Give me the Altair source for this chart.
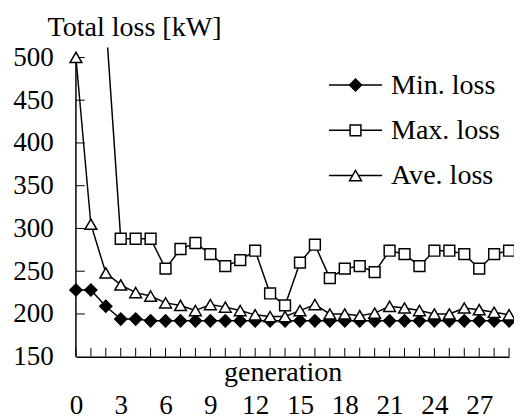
import altair as alt
import pandas as pd

generations = list(range(30))
min_loss = [228, 228, 209, 194, 194, 192, 192, 192, 192, 192, 192, 192, 192, 192, 192,
            192, 192, 192, 192, 192, 192, 192, 192, 192, 192, 192, 192, 192, 192, 192]
max_loss = [1000, 800, 543, 288, 288, 288, 253, 276, 283, 270, 256, 263, 274, 224, 210,
            260, 281, 242, 253, 256, 249, 274, 270, 256, 274, 274, 270, 253, 270, 274]
ave_loss = [500, 305, 248, 234, 225, 221, 213, 210, 204, 211, 208, 204, 199, 197, 197,
            204, 211, 200, 200, 198, 201, 209, 207, 204, 200, 200, 207, 205, 202, 199]
series_names = ["Min. loss", "Max. loss", "Ave. loss"]
x_label_values = [0, 3, 6, 9, 12, 15, 18, 21, 24, 27]
y_tick_values = [150, 200, 250, 300, 350, 400, 450, 500]

rows = []
for name, vals in zip(series_names, [min_loss, max_loss, ave_loss]):
    for g, v in zip(generations, vals):
        rows.append({"gen": g, "loss": v, "series": name})
df = pd.DataFrame(rows)

W, H = 440, 314
FONT = "Times New Roman, Liberation Serif, DejaVu Serif, serif"
FS_NUM = 27.5
FS_TXT = 28.5

xs = alt.Scale(domain=[0, 29], nice=False, zero=False)
ys = alt.Scale(domain=[150, 511.5], nice=False, zero=False)

x_axis = alt.Axis(values=x_label_values, ticks=False, grid=False, domainColor="black",
                  domainWidth=1.5, labelFont=FONT, labelFontSize=FS_NUM, labelColor="black",
                  labelFlush=False, labelOverlap=False, labelBaseline="alphabetic",
                  labelPadding=58, title="generation", titleFont=FONT, titleFontSize=FS_TXT,
                  titleFontWeight="normal", titleColor="black", titleX=210, titleY=24,
                  titleAlign="center", titleBaseline="alphabetic")
y_axis = alt.Axis(values=y_tick_values, ticks=False, grid=False, domain=False,
                  labelFont=FONT, labelFontSize=FS_NUM, labelColor="black",
                  labelFlush=False, labelOverlap=False, labelPadding=23,
                  title="Total loss [kW]", titleFont=FONT, titleFontSize=FS_TXT,
                  titleFontWeight="normal", titleColor="black", titleAngle=0, titleX=59,
                  titleY=-12, titleAlign="center", titleBaseline="alphabetic")

X = alt.X("gen:Q", scale=xs, axis=x_axis)
Y = alt.Y("loss:Q", scale=ys, axis=y_axis)

# y axis line from 150 to 500
y_line = alt.Chart(pd.DataFrame({"loss": [y_tick_values[0]], "loss2": [y_tick_values[-1]]})).mark_rule(
    color="black", strokeWidth=1.5).encode(x=alt.value(0), y=Y, y2="loss2:Q")

lines = alt.Chart(df).mark_line(color="black", strokeWidth=1.5, clip=True).encode(
    x=X, y=Y, detail="series:N")

shape_map = {"Min. loss": ("diamond", "black", 150),
             "Max. loss": ("square", "white", 121),
             "Ave. loss": ("triangle-up", "white", 144)}

point_layers = []
for name in series_names:
    shp, fill, size = shape_map[name]
    point_layers.append(
        alt.Chart(df).transform_filter(
            (alt.datum.series == name) & (alt.datum.loss <= 500)
        ).mark_point(shape=shp, fill=fill, stroke="black", strokeWidth=1.5,
                     size=size, opacity=1, filled=False).encode(x=X, y=Y)
    )

xt = alt.Chart(pd.DataFrame({"gen": generations})).mark_rule(
    color="black", strokeWidth=1).encode(x=X, y=alt.value(H), y2=alt.value(H - 9))
yt = alt.Chart(pd.DataFrame({"loss": y_tick_values[1:]})).mark_rule(
    color="black", strokeWidth=1).encode(y=Y, x=alt.value(0), x2=alt.value(9))

legend_sym_y = [38, 84, 130]
legend_txt_y = [47, 93, 139]
legend_layers = []
for i, name in enumerate(series_names):
    shp, fill, size = shape_map[name]
    ld = pd.DataFrame({"name": [name]})
    legend_layers.append(alt.Chart(ld).mark_rule(color="black", strokeWidth=1.5).encode(
        x=alt.value(257), x2=alt.value(311), y=alt.value(legend_sym_y[i])))
    legend_layers.append(alt.Chart(ld).mark_point(
        shape=shp, fill=fill, stroke="black", strokeWidth=1.5, size=size,
        opacity=1, filled=False).encode(x=alt.value(284), y=alt.value(legend_sym_y[i])))
    legend_layers.append(alt.Chart(ld).mark_text(
        align="left", baseline="alphabetic", font=FONT, fontSize=FS_TXT, color="black").encode(
        x=alt.value(320), y=alt.value(legend_txt_y[i]), text="name:N"))

chart = alt.layer(lines, y_line, xt, yt, *point_layers, *legend_layers).properties(
    width=W, height=H,
    padding={"left": 69, "top": 37, "right": 5, "bottom": 60},
    autosize=alt.AutoSizeParams(type="none"),
    background="white",
).configure_view(stroke=None)

chart.save("out.html", embed_options={"renderer": "svg", "actions": False})
